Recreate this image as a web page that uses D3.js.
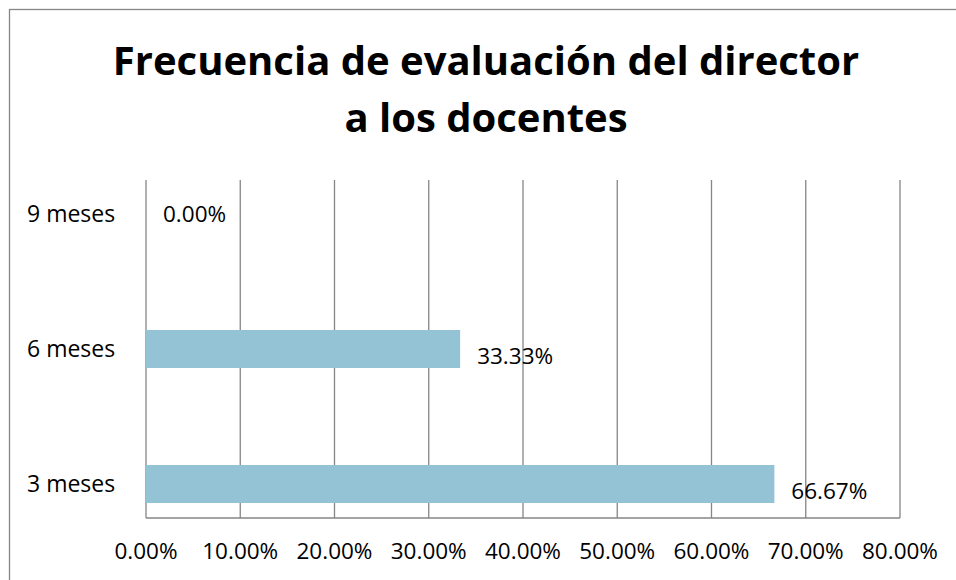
<!DOCTYPE html>
<html>
<head>
<meta charset="utf-8">
<script src="https://cdn.jsdelivr.net/npm/d3@7"></script>
<style>
  body { margin: 0; background: #fff; }
  text { font-family: "Open Sans", "Noto Sans", sans-serif; fill: #000; }
</style>
</head>
<body>
<svg id="chart" width="956" height="580"></svg>
<script>
// data
var categories = ["3 meses", "6 meses", "9 meses"];
var values = [66.67, 33.33, 0];
var tickValues = [0, 10, 20, 30, 40, 50, 60, 70, 80];
var titleLines = ["Frecuencia de evaluación del director", "a los docentes"];

var svg = d3.select("#chart");

// outer frame (runs off the right and bottom edges)
svg.append("rect")
    .attr("x", 9.5).attr("y", 9.5)
    .attr("width", 1000).attr("height", 1000)
    .attr("fill", "none")
    .attr("stroke", "#868686")
    .attr("stroke-width", 1.3);

var plot = { left: 146, right: 900, top: 180, bottom: 518 };

var x = d3.scaleLinear()
    .domain([0, 80])
    .range([plot.left, plot.right]);

var y = d3.scaleBand()
    .domain(categories)
    .range([551.5, 146.5]);

// gridlines
svg.selectAll(".grid")
  .data(tickValues)
  .enter()
  .append("line")
    .classed("grid", true)
    .attr("x1", function(d) { return x(d); })
    .attr("x2", function(d) { return x(d); })
    .attr("y1", plot.top)
    .attr("y2", plot.bottom)
    .attr("stroke", "#868686")
    .attr("stroke-width", 1.3);

// x axis line and labels
svg.append("line")
    .attr("x1", plot.left).attr("x2", plot.right)
    .attr("y1", plot.bottom).attr("y2", plot.bottom)
    .attr("stroke", "#868686")
    .attr("stroke-width", 1.3);

svg.selectAll(".xlabel")
  .data(tickValues)
  .enter()
  .append("text")
    .classed("xlabel", true)
    .attr("x", function(d) { return x(d); })
    .attr("y", 559)
    .attr("text-anchor", "middle")
    .style("font-size", "22.5px")
    .text(function(d) { return d.toFixed(2) + "%"; });

// bars
var barH = 38;
svg.selectAll(".bar")
  .data(values)
  .enter()
  .append("rect")
    .classed("bar", true)
    .attr("x", x(0))
    .attr("y", function(d, i) { return y(categories[i]) + y.bandwidth() / 2 - barH / 2; })
    .attr("width", function(d) { return x(d) - x(0); })
    .attr("height", barH)
    .attr("fill", "#93c3d5");

// category labels
svg.selectAll(".ylabel")
  .data(categories)
  .enter()
  .append("text")
    .classed("ylabel", true)
    .attr("x", 27)
    .attr("y", function(d) { return y(d) + y.bandwidth() / 2; })
    .attr("dy", "0.35em")
    .style("font-size", "23px")
    .text(function(d) { return d; });

// value labels
svg.selectAll(".vlabel")
  .data(values)
  .enter()
  .append("text")
    .classed("vlabel", true)
    .attr("x", function(d) { return x(d) + 17; })
    .attr("y", function(d, i) { return y(categories[i]) + y.bandwidth() / 2 + (d > 0 ? 7 : 0); })
    .attr("dy", "0.35em")
    .style("font-size", "22.5px")
    .text(function(d) { return d.toFixed(2) + "%"; });

// title
svg.selectAll(".title")
  .data(titleLines)
  .enter()
  .append("text")
    .classed("title", true)
    .attr("x", 486)
    .attr("y", function(d, i) { return 75 + i * 57; })
    .attr("text-anchor", "middle")
    .style("font-size", "40px")
    .style("font-weight", "bold")
    .text(function(d) { return d; });
</script>
</body>
</html>
